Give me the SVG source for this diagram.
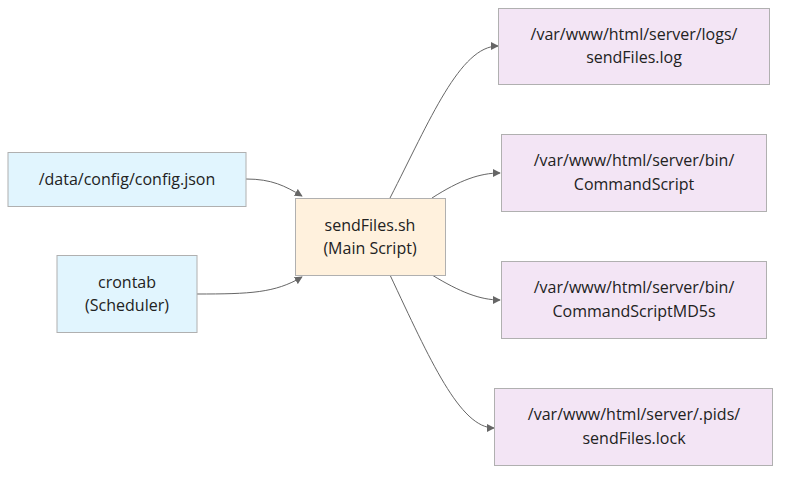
<svg xmlns="http://www.w3.org/2000/svg" width="789" height="478" viewBox="0 0 789 478">
<style>
.n rect{stroke:#b0b0b0;stroke-width:1}
.in rect{fill:#e1f5fe}
.main rect{fill:#fff1dd}
.out rect{fill:#f3e5f5}
text{font-family:"Open Sans","DejaVu Sans",sans-serif;font-size:16px;fill:#222;text-anchor:middle}
.e path{fill:none;stroke:#666;stroke-width:1;marker-end:url(#a)}
</style>
<defs>
<marker id="a" viewBox="0 0 10 10" refX="9" refY="5" markerWidth="8" markerHeight="8" markerUnits="userSpaceOnUse" orient="auto">
<path d="M0,0 L10,5 L0,10 z" fill="#666"/>
</marker>
</defs>
<rect width="789" height="478" fill="#fff"/>
<g id="edges" class="e">
<path d="M246,179 C272,179 285,186 302,196"/>
<path d="M197,294 C250,294 275,293 302,277"/>
<path d="M390,198 C430,120 460,46 498,46"/>
<path d="M432,198 C460,180 480,173 500,173"/>
<path d="M432,275 C460,292 480,300 500,300"/>
<path d="M390,275 C430,360 460,428 494,428"/>
</g>
<g id="config" class="n in"><rect x="8" y="152.5" width="238" height="54"/><text x="127" y="185">/data/config/config.json</text></g>
<g id="crontab" class="n in"><rect x="57" y="255.5" width="140" height="77"/><text x="127" y="288">crontab</text><text x="127" y="311">(Scheduler)</text></g>
<g id="main" class="n main"><rect x="295.5" y="198.5" width="150" height="77"/><text x="370" y="231">sendFiles.sh</text><text x="370" y="254">(Main Script)</text></g>
<g id="logs" class="n out"><rect x="498.5" y="8.5" width="271" height="76"/><text x="634" y="40">/var/www/html/server/logs/</text><text x="634" y="63">sendFiles.log</text></g>
<g id="bin" class="n out"><rect x="501.5" y="134.5" width="265" height="77"/><text x="634" y="166">/var/www/html/server/bin/</text><text x="634" y="190">CommandScript</text></g>
<g id="md5" class="n out"><rect x="501.5" y="261.5" width="265" height="77"/><text x="634" y="293">/var/www/html/server/bin/</text><text x="634" y="317">CommandScriptMD5s</text></g>
<g id="pids" class="n out"><rect x="494.5" y="388.5" width="278" height="77"/><text x="634" y="420">/var/www/html/server/.pids/</text><text x="634" y="444">sendFiles.lock</text></g>
</svg>
